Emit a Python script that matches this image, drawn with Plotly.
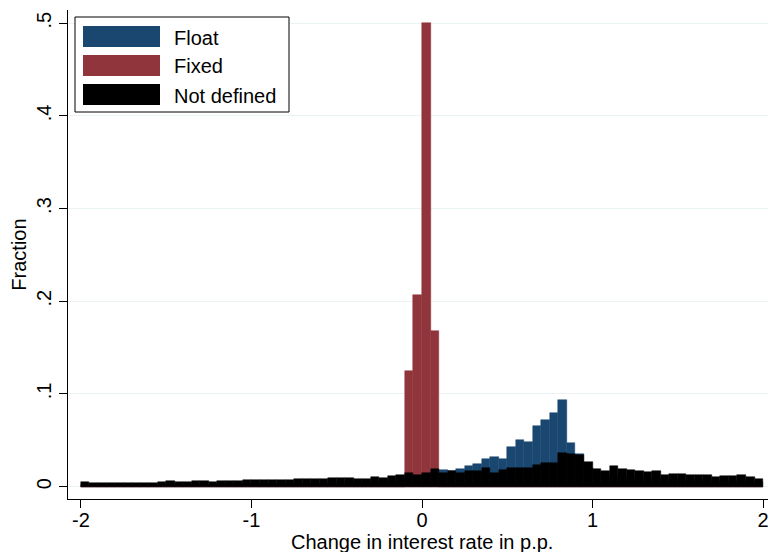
import numpy as np
import plotly.graph_objects as go

# Histogram of interest-rate changes (p.p.), 80 bins of width 0.05 on [-2, 2]
bin_start = -2.0
bin_width = 0.05

float_share = [
    0.0020, 0.0015, 0.0020, 0.0015, 0.0020, 0.0020, 0.0015, 0.0015, 0.0020, 0.0020,
    0.0025, 0.0020, 0.0025, 0.0025, 0.0020, 0.0025, 0.0030, 0.0025, 0.0030, 0.0030,
    0.0035, 0.0035, 0.0030, 0.0035, 0.0035, 0.0040, 0.0040, 0.0040, 0.0045, 0.0045,
    0.0050, 0.0050, 0.0050, 0.0050, 0.0060, 0.0060, 0.0070, 0.0080, 0.0090, 0.0100,
    0.0120, 0.0150, 0.0180, 0.0170, 0.0190, 0.0223, 0.0245, 0.0300, 0.0320, 0.0300,
    0.0430, 0.0504, 0.0485, 0.0655, 0.0720, 0.0798, 0.0935, 0.0470, 0.0350, 0.0200,
    0.0150, 0.0120, 0.0120, 0.0110, 0.0100, 0.0100, 0.0090, 0.0090, 0.0080, 0.0080,
    0.0080, 0.0070, 0.0070, 0.0070, 0.0060, 0.0060, 0.0060, 0.0060, 0.0050, 0.0050,
]

fixed_share = [0.0] * 38 + [0.125, 0.2068, 0.500, 0.168] + [0.0] * 38

undefined_share = [
    0.0055, 0.0038, 0.0042, 0.0036, 0.0044, 0.0044, 0.0040, 0.0038, 0.0045, 0.0052,
    0.0056, 0.0050, 0.0054, 0.0062, 0.0058, 0.0052, 0.0060, 0.0066, 0.0062, 0.0068,
    0.0074, 0.0072, 0.0070, 0.0072, 0.0070, 0.0086, 0.0084, 0.0078, 0.0082, 0.0090,
    0.0096, 0.0096, 0.0088, 0.0080, 0.0104, 0.0090, 0.0120, 0.0122, 0.0144, 0.0126,
    0.0144, 0.0187, 0.0144, 0.0166, 0.0151, 0.0173, 0.0173, 0.0205, 0.0150, 0.0176,
    0.0205, 0.0205, 0.0205, 0.0234, 0.0259, 0.0259, 0.0367, 0.0356, 0.0345, 0.0270,
    0.0188, 0.0173, 0.0223, 0.0190, 0.0180, 0.0173, 0.0159, 0.0173, 0.0126, 0.0137,
    0.0137, 0.0126, 0.0126, 0.0126, 0.0108, 0.0115, 0.0115, 0.0126, 0.0108, 0.0087,
]

series_names = ["Float", "Fixed", "Not defined"]
series_colors = ["#1a476f", "#90353b", "#000000"]

x_tick_vals = [-2, -1, 0, 1, 2]
x_tick_text = ["-2", "-1", "0", "1", "2"]
y_tick_vals = [0, 0.1, 0.2, 0.3, 0.4, 0.5]
y_tick_text = ["0", ".1", ".2", ".3", ".4", ".5"]

centers = bin_start + bin_width * (np.arange(len(undefined_share)) + 0.5)

FONT = "Liberation Sans, Arial, sans-serif"
W, H = 768, 552
ML, MR, MT, MB = 68, 0, 10, 53
PW, PH = W - ML - MR, H - MT - MB

fig = go.Figure()
for name, vals, col in zip(series_names, [float_share, fixed_share, undefined_share], series_colors):
    fig.add_trace(go.Bar(
        x=centers, y=vals, width=bin_width, name=name,
        marker=dict(color=col, line=dict(color=col, width=0.5)),
        showlegend=False,
    ))


def px_x(px):
    return (px - ML) / PW


def px_y(py):
    return (H - MB - py) / PH


shapes = [dict(type="rect", xref="paper", yref="paper",
               x0=px_x(75), x1=px_x(289), y0=px_y(112), y1=px_y(17),
               line=dict(color="black", width=1), fillcolor="white", layer="above")]
annotations = []
swatch_rows = [(26, 47), (55, 76), (84, 105)]
for (top, bot), name, col in zip(swatch_rows, series_names, series_colors):
    shapes.append(dict(type="rect", xref="paper", yref="paper",
                       x0=px_x(83), x1=px_x(160), y0=px_y(bot), y1=px_y(top),
                       line=dict(width=0), fillcolor=col, layer="above"))
    annotations.append(dict(xref="paper", yref="paper", x=px_x(172), y=px_y((top + bot) / 2 + 1),
                            text=name, showarrow=False, xanchor="left", yanchor="middle",
                            font=dict(family=FONT, size=20, color="black")))

# x-axis title placed just above the bottom edge
annotations.append(dict(xref="paper", yref="paper", x=px_x(422), y=px_y(542),
                        text="Change in interest rate in p.p.", showarrow=False,
                        xanchor="center", yanchor="middle",
                        font=dict(family=FONT, size=20, color="black")))

fig.update_layout(
    width=W, height=H,
    margin=dict(l=ML, r=MR, t=MT, b=MB, pad=0),
    barmode="overlay", bargap=0,
    plot_bgcolor="white", paper_bgcolor="white",
    font=dict(family=FONT, size=20, color="black"),
    shapes=shapes, annotations=annotations,
)
fig.update_xaxes(
    range=[-2.076, 2.029], tickvals=x_tick_vals, ticktext=x_tick_text,
    ticklabeloverflow="allow", ticklabelstandoff=-5,
    showline=True, linecolor="black", linewidth=1,
    ticks="outside", ticklen=8, tickcolor="black", tickwidth=1,
    showgrid=False, zeroline=False,
    tickfont=dict(size=20),
)
fig.update_yaxes(
    range=[-0.0133, 0.5142], tickvals=y_tick_vals, ticktext=y_tick_text,
    tickangle=-90,
    showline=True, linecolor="black", linewidth=1,
    ticks="outside", ticklen=8, tickcolor="black", tickwidth=1,
    showgrid=True, gridcolor="#eaf2f3", gridwidth=1, zeroline=False,
    tickfont=dict(size=20),
    title=dict(text="Fraction", font=dict(size=20), standoff=1),
)

fig.write_html("out.html")
